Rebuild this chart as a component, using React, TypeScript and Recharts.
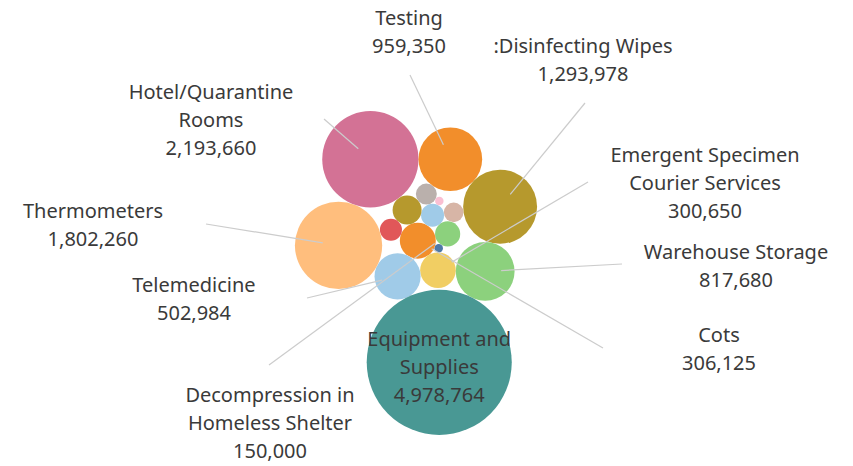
import React from 'react';
import { ScatterChart, Scatter, XAxis, YAxis, ZAxis } from 'recharts';

// order here is also the order bubbles are packed in
const categories = [
  'Decompression in Homeless Shelter',
  'Laundry Services',
  'Cots',
  'Hand Sanitizer',
  'Personal Protective Equipment',
  'Security',
  'Signage',
  'Meals',
  'Interpretation Services',
  'Emergent Specimen Courier Services',
  'Telemedicine',
  'Thermometers',
  'Hotel/Quarantine Rooms',
  'Testing',
  'Disinfecting Wipes',
  'Warehouse Storage',
  'Equipment and Supplies',
];

const amounts = [
  150000, 17000, 306125, 125000, 199000, 115000, 104000, 91000, 17000, 300650,
  502984, 1802260, 2193660, 959350, 1293978, 817680, 4978764,
];

const colors: Record<string, string> = {
  'Decompression in Homeless Shelter': '#8CD17D',
  'Laundry Services': '#4E79A7',
  Cots: '#F28E2B',
  Security: '#E15759',
  Signage: '#BAB0AC',
  'Personal Protective Equipment': '#B6992D',
  'Hand Sanitizer': '#A0CBE8',
  Meals: '#D7B5A6',
  'Interpretation Services': '#FABFD2',
  'Emergent Specimen Courier Services': '#F1CE63',
  Telemedicine: '#A0CBE8',
  Thermometers: '#FFBE7D',
  'Hotel/Quarantine Rooms': '#D37295',
  Testing: '#F28E2B',
  'Disinfecting Wipes': '#B6992D',
  'Warehouse Storage': '#8CD17D',
  'Equipment and Supplies': '#499894',
};

// how each label is wrapped
const labelLines: Record<string, string[]> = {
  Testing: ['Testing'],
  'Disinfecting Wipes': [':Disinfecting Wipes'],
  'Hotel/Quarantine Rooms': ['Hotel/Quarantine', 'Rooms'],
  Thermometers: ['Thermometers'],
  Telemedicine: ['Telemedicine'],
  'Decompression in Homeless Shelter': ['Decompression in', 'Homeless Shelter'],
  'Emergent Specimen Courier Services': ['Emergent Specimen', 'Courier Services'],
  'Warehouse Storage': ['Warehouse Storage'],
  Cots: ['Cots'],
  'Equipment and Supplies': ['Equipment and', 'Supplies'],
};

// annotation placement: text centre / first baseline, and where the leader line starts
const labelSpots: Record<string, { x: number; y: number; lx: number; ly: number }> = {
  Testing: { x: 409, y: 25, lx: 410, ly: 75 },
  'Disinfecting Wipes': { x: 583, y: 53, lx: 585, ly: 103 },
  'Hotel/Quarantine Rooms': { x: 211, y: 99, lx: 324, ly: 119 },
  Thermometers: { x: 93, y: 218, lx: 206, ly: 224 },
  Telemedicine: { x: 194, y: 292, lx: 307, ly: 298 },
  'Decompression in Homeless Shelter': { x: 270, y: 402, lx: 269, ly: 365 },
  'Emergent Specimen Courier Services': { x: 705, y: 162, lx: 588, ly: 182 },
  'Warehouse Storage': { x: 736, y: 259, lx: 622, ly: 264 },
  Cots: { x: 719, y: 342, lx: 603, ly: 348 },
};

const W = 853;
const H = 466;
const PX_PER_ROOT = 0.0325; // radius in px per sqrt(amount)
const RING_MIN = 20; // bubbles at least this big are walked round the core
const ROTATE = 122;
const CENTER = { x: 416, y: 273 };
const FONT = '"Noto Sans", "Open Sans", sans-serif';
const TEXT = '#3a3a3a';

type Circ = { r: number; x: number; y: number };

// centres of a circle of radius r touching both p and q
function tangentSpots(p: Circ, q: Circ, r: number) {
  const d1 = p.r + r;
  const d2 = q.r + r;
  const dx = q.x - p.x;
  const dy = q.y - p.y;
  const d = Math.hypot(dx, dy);
  if (!d || d > d1 + d2 || d < Math.abs(d1 - d2)) return [];
  const a = (d1 * d1 - d2 * d2 + d * d) / (2 * d);
  const h = Math.sqrt(Math.max(0, d1 * d1 - a * a));
  const mx = p.x + (a * dx) / d;
  const my = p.y + (a * dy) / d;
  return [
    { x: mx - (h * dy) / d, y: my + (h * dx) / d },
    { x: mx + (h * dy) / d, y: my - (h * dx) / d },
  ];
}

const fits = (placed: Circ[], x: number, y: number, r: number) =>
  placed.every((c) => Math.hypot(c.x - x, c.y - y) >= c.r + r - 1e-6);

// greedy packing: small bubbles huddle round the core centroid,
// big ones are walked clockwise round it, each touching the last big one
function packBubbles(radii: number[]) {
  const placed: Circ[] = [];
  let lastRing = -1;
  radii.forEach((r) => {
    if (placed.length === 0) {
      placed.push({ x: 0, y: 0, r });
      return;
    }
    if (placed.length === 1) {
      placed.push({ x: placed[0].r + r, y: 0, r });
      return;
    }
    const core = placed.filter((c) => c.r < RING_MIN);
    const wsum = core.reduce((s, c) => s + c.r * c.r, 0);
    const ox = core.reduce((s, c) => s + c.x * c.r * c.r, 0) / wsum;
    const oy = core.reduce((s, c) => s + c.y * c.r * c.r, 0) / wsum;
    const ring = r >= RING_MIN;
    let best: { x: number; y: number } | null = null;
    let bestD = Infinity;
    for (let a = 0; a < placed.length; a++) {
      for (let b = a + 1; b < placed.length; b++) {
        if (ring && lastRing >= 0 && a !== lastRing && b !== lastRing) continue;
        for (const s of tangentSpots(placed[a], placed[b], r)) {
          if (!fits(placed, s.x, s.y, r)) continue;
          if (ring && lastRing >= 0) {
            const prev = placed[lastRing];
            const cross = (prev.x - ox) * (s.y - oy) - (prev.y - oy) * (s.x - ox);
            if (cross <= 0) continue;
          }
          const d = (s.x - ox) ** 2 + (s.y - oy) ** 2;
          if (d < bestD) {
            bestD = d;
            best = s;
          }
        }
      }
    }
    placed.push({ x: best ? best.x : 0, y: best ? best.y : 0, r });
    if (ring) lastRing = placed.length - 1;
  });
  return placed;
}

function buildBubbles() {
  const circles = packBubbles(amounts.map((v) => Math.sqrt(v) * PX_PER_ROOT));
  const t = (ROTATE * Math.PI) / 180;
  const pts = circles.map((c) => ({
    x: c.x * Math.cos(t) - c.y * Math.sin(t),
    y: c.x * Math.sin(t) + c.y * Math.cos(t),
    r: c.r,
  }));
  const x0 = Math.min(...pts.map((p) => p.x - p.r));
  const x1 = Math.max(...pts.map((p) => p.x + p.r));
  const y0 = Math.min(...pts.map((p) => p.y - p.r));
  const y1 = Math.max(...pts.map((p) => p.y + p.r));
  const ox = CENTER.x - (x0 + x1) / 2;
  const oy = CENTER.y - (y0 + y1) / 2;
  return categories.map((name, i) => ({
    name,
    v: amounts[i],
    x: pts[i].x + ox,
    y: pts[i].y + oy,
    color: colors[name],
  }));
}

const bubbles = buildBubbles();
const maxAmount = Math.max(...amounts);

const fmt = (v: number) => v.toLocaleString('en-US');

const Bubble = (props: any) => {
  const { cx, cy, width, payload } = props;
  return <circle cx={cx} cy={cy} r={width / 2} fill={payload.color} />;
};

const BubbleLabel = (props: any) => {
  const { cx, cy, payload } = props;
  const lines = labelLines[payload.name];
  if (!lines) return <g />;
  const all = [...lines, fmt(payload.v)];
  const spot = labelSpots[payload.name];
  if (!spot) {
    // label sits inside the bubble
    return (
      <text x={cx} y={cy - 16} textAnchor="middle" fontFamily={FONT} fontSize={20} fill={TEXT}>
        {all.map((s, i) => (
          <tspan key={i} x={cx} dy={i === 0 ? 0 : 28}>
            {s}
          </tspan>
        ))}
      </text>
    );
  }
  const dx = spot.lx - cx;
  const dy = spot.ly - cy;
  const d = Math.sqrt(dx * dx + dy * dy) || 1;
  const gap = 16;
  return (
    <g>
      <line
        x1={spot.lx}
        y1={spot.ly}
        x2={cx + (dx / d) * gap}
        y2={cy + (dy / d) * gap}
        stroke="#cccccc"
        strokeWidth={1.2}
      />
      <text x={spot.x} y={spot.y} textAnchor="middle" fontFamily={FONT} fontSize={20} fill={TEXT}>
        {all.map((s, i) => (
          <tspan key={i} x={spot.x} dy={i === 0 ? 0 : 28}>
            {s}
          </tspan>
        ))}
      </text>
    </g>
  );
};

export default function App() {
  return (
    <div style={{ width: W, height: H, background: '#ffffff' }}>
      <style>{'body{margin:0}'}</style>
      <ScatterChart width={W} height={H} margin={{ top: 0, right: 0, bottom: 0, left: 0 }}>
        <XAxis type="number" dataKey="x" domain={[0, W]} hide />
        <YAxis type="number" dataKey="y" domain={[0, H]} reversed hide />
        <ZAxis
          type="number"
          dataKey="v"
          domain={[0, maxAmount]}
          range={[0, Math.PI * PX_PER_ROOT * PX_PER_ROOT * maxAmount]}
        />
        <Scatter data={bubbles} shape={Bubble} isAnimationActive={false} />
        <Scatter data={bubbles} shape={BubbleLabel} isAnimationActive={false} />
      </ScatterChart>
    </div>
  );
}
